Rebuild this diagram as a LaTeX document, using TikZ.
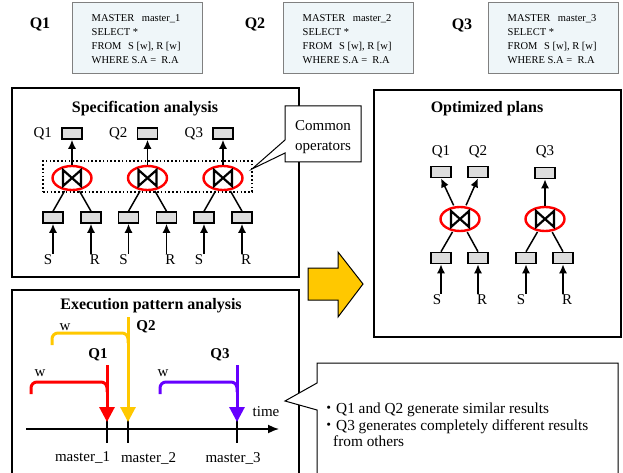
\documentclass[tikz,border=0pt]{standalone}
\usepackage{fontspec}
\setmainfont{Liberation Serif}
\newfontfamily\cjk{Noto Sans CJK JP}
\usetikzlibrary{positioning,arrows.meta,shapes.geometric}
\tikzset{>={Latex[length=9pt,width=8pt]}}
\definecolor{sqlfill}{RGB}{239,246,249}
\definecolor{sqlline}{RGB}{128,128,128}
\definecolor{opfill}{RGB}{221,221,221}
\definecolor{q1red}{RGB}{255,0,0}
\definecolor{q2gold}{RGB}{255,200,0}
\definecolor{q3violet}{RGB}{102,0,255}
\newcommand{\dotitem}{\makebox[9pt][l]{\hspace{-6pt}{\cjk ・}}}
\tikzset{
  panel/.style = {draw, line width=1.3pt},
  paneltitle/.style = {font=\fontsize{16}{16}\selectfont\bfseries},
  sqlbox/.style = {draw=sqlline, fill=sqlfill, line width=1pt,
    minimum width=130pt, minimum height=71pt, inner sep=0pt},
  sqltext/.style = {align=left, anchor=west, inner sep=0pt,
    font=\fontsize{10.5}{14}\selectfont},
  qname/.style = {font=\fontsize{16}{16}\selectfont\bfseries},
  lbl/.style = {font=\fontsize{15}{15}\selectfont, inner sep=1pt},
  opbox/.style = {draw, fill=opfill, line width=1.6pt,
    minimum width=20pt, minimum height=11pt, inner sep=0pt},
  joinop/.style = {ellipse, draw=q1red, line width=2.4pt,
    minimum width=39pt, minimum height=24pt, inner sep=0pt},
  bowtie/.style = {line width=2.2pt, line join=miter},
  link/.style = {line width=1.5pt},
  window/.style = {line width=3pt, rounded corners=6pt},
  arrive/.style = {line width=3pt, -{Triangle[length=15pt,width=15pt]}},
  callout/.style = {draw, fill=white, line width=1pt}
}

\begin{document}
\begin{tikzpicture}[x=1pt,y=-1pt]
  \useasboundingbox (0,0) rectangle (623,473);

  % queries
  \node[qname] at (40,25) {Q1};
  \node[qname] at (255,25) {Q2};
  \node[qname] at (462,26) {Q3};
  \node[sqlbox] (sql1) at (137,38) {};
  \node[sqlbox] (sql2) at (348,38) {};
  \node[sqlbox] (sql3) at (553,38) {};
  \foreach \k in {1,2,3}{
    \node[sqltext] at ([shift={(20,1)}]sql\k.west)
      {MASTER\hspace{5pt} master\_\k\\SELECT *\\FROM\hspace{4pt} S [w], R [w]\\WHERE S.A =\ \ R.A};
  }

  % specification analysis
  \draw[panel] (12,88) rectangle (299,277);
  \node[paneltitle] at (145,109) {Specification analysis};
  \node[draw, line width=1.6pt, dash pattern=on 1.6pt off 2.2pt,
    minimum width=209pt, minimum height=31pt, inner sep=0pt] (common) at (147.5,176.5) {};
  \foreach \k/\x in {1/72,2/147.5,3/223}{
    \node[opbox] (out\k) at (\x,133.5) {};
    \node[lbl, left=8pt of out\k] {Q\k};
    \node[joinop] (j\k) at (\x,178) {};
    \draw[bowtie] ([shift={(-9,-8)}]j\k.center) -- ++(0,16) -- ++(18,-16) -- ++(0,16) -- cycle;
    \node[opbox] (ls\k) at (\x-19,217.5) {};
    \node[opbox] (lr\k) at (\x+19,217.5) {};
    \node[lbl] (s\k) at (\x-24,260) {S};
    \node[lbl] (r\k) at (\x+23,260) {R};
    \draw[link,->] (j\k.north) -- (out\k.south);
    \draw[link,shorten <=15pt] (j\k.center) -- (ls\k.north);
    \draw[link,shorten <=15pt] (j\k.center) -- (lr\k.north);
    \draw[link,->] (ls\k.south |- s\k.north) -- (ls\k.south);
    \draw[link,->] (lr\k.south |- r\k.north) -- (lr\k.south);
  }
  \coordinate (cotip) at (252,169);
  \draw[callout] (285,106) -- (361,106) -- (361,162) -- (285,162) -- (285,153)
    -- (cotip) -- (285,140) -- cycle;
  \node[lbl, align=center, font=\fontsize{15}{20}\selectfont] at (323,137) {Common\\operators};

  % optimized plans
  \draw[panel] (374,90) rectangle (621,337);
  \node[paneltitle] at (487,109) {Optimized plans};
  \node[opbox] (o1) at (441,172) {};
  \node[opbox] (o2) at (478,172) {};
  \node[opbox] (o3) at (545,173) {};
  \node[lbl, above=7pt of o1] {Q1};
  \node[lbl, above=7pt of o2] {Q2};
  \node[lbl, above=8pt of o3] {Q3};
  \node[joinop] (ja) at (460,219) {};
  \node[joinop] (jb) at (545,219) {};
  \foreach \j in {ja,jb}{
    \draw[bowtie] ([shift={(-9,-8)}]\j.center) -- ++(0,16) -- ++(18,-16) -- ++(0,16) -- cycle;
  }
  \node[opbox] (oa1) at (441,258) {};
  \node[opbox] (oa2) at (478,258) {};
  \node[opbox] (ob1) at (526,258) {};
  \node[opbox] (ob2) at (563,258) {};
  \node[lbl] (sa) at (437,300) {S};
  \node[lbl] (ra) at (482,300) {R};
  \node[lbl] (sb) at (521,300) {S};
  \node[lbl] (rb) at (567,300) {R};
  \draw[link,->,shorten <=15pt] (ja.center) -- (o1.south);
  \draw[link,->,shorten <=15pt] (ja.center) -- (o2.south);
  \draw[link,->] (jb.north) -- (o3.south);
  \draw[link,shorten <=15pt] (ja.center) -- (oa1.north);
  \draw[link,shorten <=15pt] (ja.center) -- (oa2.north);
  \draw[link,shorten <=15pt] (jb.center) -- (ob1.north);
  \draw[link,shorten <=15pt] (jb.center) -- (ob2.north);
  \draw[link,->] (oa1.south |- sa.north) -- (oa1.south);
  \draw[link,->] (oa2.south |- ra.north) -- (oa2.south);
  \draw[link,->] (ob1.south |- sb.north) -- (ob1.south);
  \draw[link,->] (ob2.south |- rb.north) -- (ob2.south);

  % big arrow
  \draw[fill=q2gold, line width=1pt] (308,268) -- (338,268) -- (338,252) -- (363,284)
    -- (338,317) -- (338,300) -- (308,300) -- cycle;

  % execution pattern analysis
  \draw[panel] (12,290) rectangle (299,490);
  \node[paneltitle] at (151,306) {Execution pattern analysis};
  \coordinate (t0) at (26,429);
  \coordinate (t1) at (279,429);
  \draw[line width=1.6pt, -{Latex[length=11pt,width=9pt]}] (t0) -- (t1);
  \node[lbl] at (266,412) {time};
  \foreach \k/\x/\l in {1/107/82.5,2/128/148.5,3/237/233}{
    \coordinate (m\k) at (\x,420);
    \draw[line width=1.6pt] (m\k) -- ++(0,23);
    \node[lbl] at (\l,458) {master\_\k};
  }
  % Q1
  \coordinate (q1top) at (107,365);
  \draw[window, q1red] (31,394) -- (31,382) -- (107,382) -- (107,392);
  \draw[arrive, q1red] (q1top) -- ([yshift=-2pt]m1);
  \node[lbl] at (40,373) {w};
  \node[qname, font=\fontsize{15}{15}\selectfont\bfseries] at (98,355) {Q1};
  % Q2
  \coordinate (q2top) at (128,317);
  \draw[window, q2gold] (52,345) -- (52,333) -- (128,333) -- (128,343);
  \draw[arrive, q2gold] (q2top) -- ([yshift=-2pt]m2);
  \node[lbl] at (65,327) {w};
  \node[qname, font=\fontsize{15}{15}\selectfont\bfseries] at (146,327) {Q2};
  % Q3
  \coordinate (q3top) at (237,365);
  \draw[window, q3violet] (160,394) -- (160,382) -- (237,382) -- (237,392);
  \draw[arrive, q3violet] (q3top) -- ([yshift=-2pt]m3);
  \node[lbl] at (163,373) {w};
  \node[qname, font=\fontsize{15}{15}\selectfont\bfseries] at (220,355) {Q3};

  % observation
  \coordinate (obtip) at (285,401);
  \draw[callout] (317,363) -- (618,363) -- (618,490) -- (317,490) -- (317,410)
    -- (obtip) -- (317,383) -- cycle;
  \node[lbl, anchor=north west, align=left, inner sep=0pt,
    font=\fontsize{15.3}{16.5}\selectfont] at (327,403)
    {\dotitem Q1 and Q2 generate similar results\\
     \dotitem Q3 generates completely different results\\
     \hspace{6pt}from others};
\end{tikzpicture}
\end{document}
